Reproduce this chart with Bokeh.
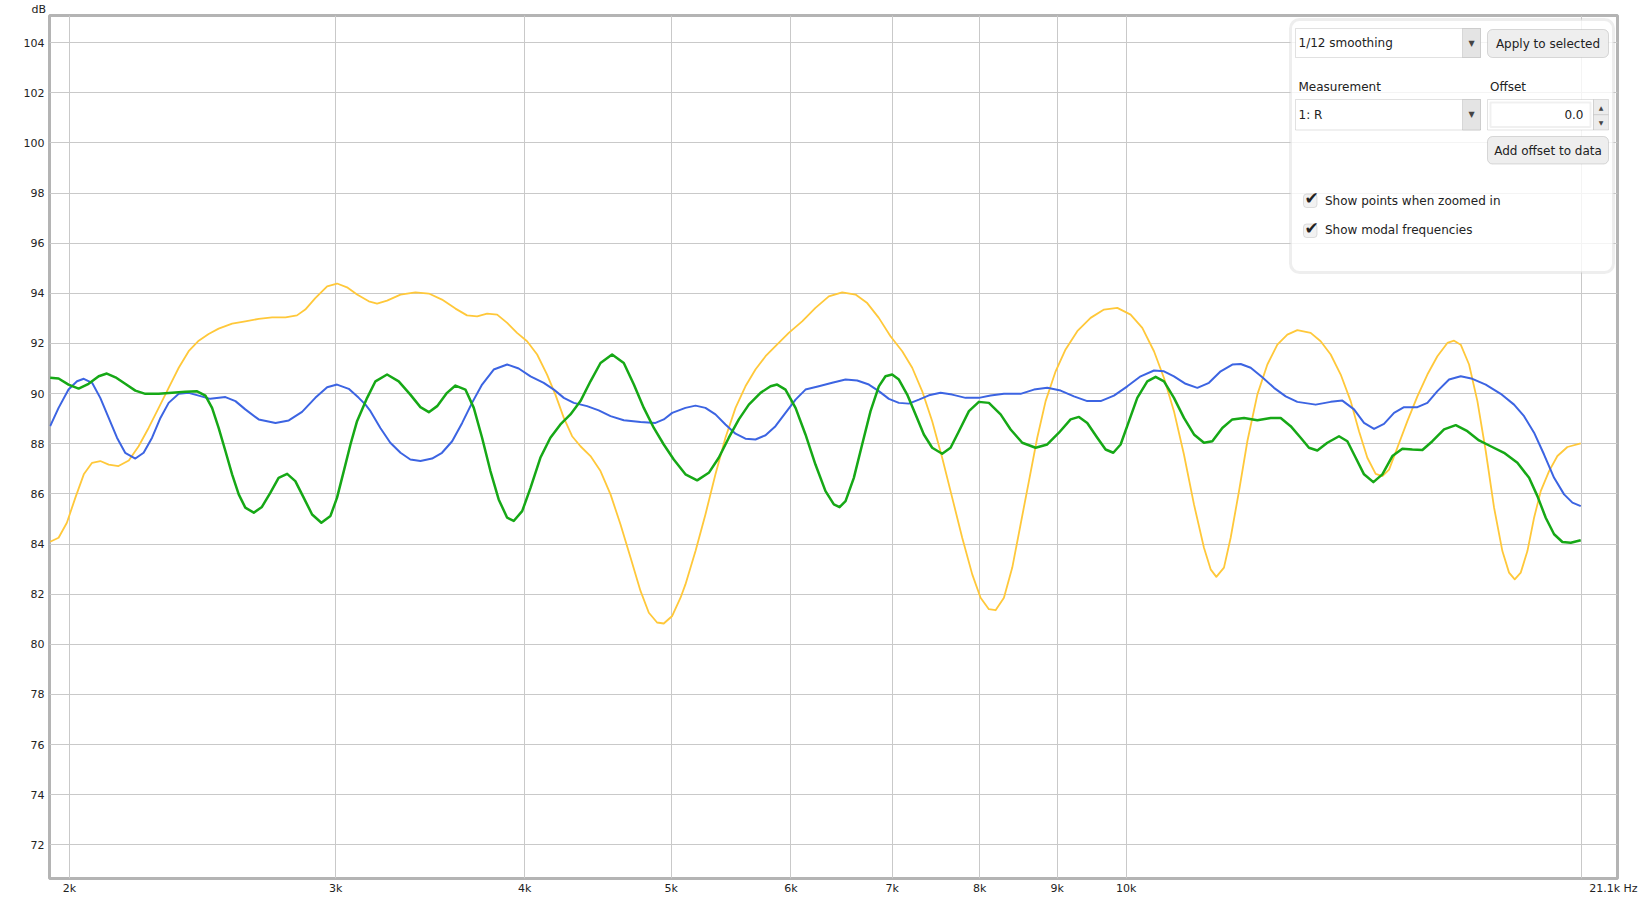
from bokeh.plotting import figure
from bokeh.models import Range1d, FixedTicker, BoxAnnotation, Label
from bokeh.embed import file_html
from bokeh.resources import INLINE

# ---------------- data (frequency in Hz, level in dB) ----------------
blue_hz = [1942, 1967, 1997, 2023, 2044, 2070, 2096, 2123, 2150, 2177,
           2211, 2239, 2268, 2297, 2326, 2362, 2398, 2435, 2478, 2536,
           2575, 2614, 2668, 2737, 2793, 2850, 2908, 2961, 3006, 3060,
           3107, 3139, 3163, 3211, 3260, 3311, 3361, 3413, 3474, 3527,
           3582, 3637, 3692, 3749, 3816, 3895, 3964, 4036, 4118, 4182,
           4246, 4311, 4399, 4478, 4559, 4652, 4772, 4882, 4944, 5008,
           5110, 5189, 5268, 5349, 5431, 5515, 5599, 5685, 5773, 5861,
           5951, 6043, 6135, 6261, 6390, 6521, 6638, 6757, 6860, 6966,
           7073, 7181, 7292, 7404, 7536, 7671, 7829, 7989, 8133, 8300,
           8513, 8688, 8866, 9048, 9234, 9423, 9617, 9814, 10016, 10221,
           10431, 10591, 10753, 10946, 11143, 11342, 11546, 11753, 11903, 12086,
           12302, 12523, 12748, 12976, 13343, 13652, 13897, 14146, 14363, 14584,
           14807, 15035, 15265, 15579, 15818, 16061, 16349, 16642, 16940, 17288,
           17687, 18050, 18327, 18609, 18894, 19185, 19479, 19728, 19980]
blue_db = [88.70, 89.43, 90.16, 90.49, 90.59, 90.43, 89.83, 89.03, 88.24, 87.64,
           87.41, 87.64, 88.24, 89.03, 89.63, 89.99, 90.03, 89.92, 89.79, 89.86,
           89.70, 89.37, 88.97, 88.83, 88.93, 89.27, 89.83, 90.25, 90.36, 90.19,
           89.83, 89.56, 89.30, 88.63, 88.04, 87.64, 87.37, 87.31, 87.41, 87.64,
           88.10, 88.83, 89.63, 90.36, 90.96, 91.16, 91.00, 90.69, 90.43, 90.16,
           89.83, 89.63, 89.50, 89.33, 89.10, 88.94, 88.87, 88.83, 88.97, 89.23,
           89.43, 89.52, 89.43, 89.17, 88.77, 88.40, 88.20, 88.17, 88.34, 88.70,
           89.23, 89.76, 90.16, 90.29, 90.43, 90.56, 90.52, 90.36, 90.10, 89.79,
           89.63, 89.60, 89.76, 89.93, 90.03, 89.96, 89.83, 89.83, 89.92, 89.99,
           89.99, 90.16, 90.23, 90.12, 89.89, 89.70, 89.70, 89.92, 90.29, 90.69,
           90.92, 90.89, 90.69, 90.39, 90.23, 90.43, 90.89, 91.16, 91.18, 91.03,
           90.65, 90.23, 89.89, 89.67, 89.56, 89.67, 89.72, 89.37, 88.83, 88.59,
           88.79, 89.23, 89.46, 89.46, 89.63, 90.10, 90.56, 90.69, 90.59, 90.36,
           89.99, 89.56, 89.10, 88.44, 87.57, 86.64, 85.98, 85.65, 85.51]

green_hz = [1942, 1967, 1997, 2028, 2059, 2091, 2117, 2145, 2177, 2211,
            2245, 2291, 2338, 2386, 2429, 2460, 2485, 2510, 2536, 2562,
            2588, 2614, 2648, 2681, 2716, 2750, 2786, 2821, 2857, 2894,
            2935, 2976, 3006, 3037, 3068, 3099, 3147, 3187, 3244, 3302,
            3361, 3413, 3457, 3501, 3554, 3600, 3655, 3702, 3749, 3797,
            3845, 3895, 3934, 3985, 4036, 4097, 4160, 4224, 4289, 4355,
            4422, 4490, 4570, 4652, 4724, 4796, 4870, 4944, 5020, 5110,
            5202, 5295, 5376, 5459, 5543, 5628, 5729, 5817, 5876, 5951,
            6043, 6135, 6229, 6325, 6406, 6462, 6521, 6604, 6688, 6774,
            6860, 6930, 7001, 7073, 7163, 7255, 7347, 7441, 7555, 7652,
            7750, 7869, 7989, 8112, 8258, 8385, 8535, 8710, 8866, 9025,
            9187, 9305, 9423, 9568, 9690, 9804, 9914, 10041, 10169, 10325,
            10457, 10591, 10753, 10918, 11086, 11256, 11400, 11575, 11753, 11964,
            12209, 12460, 12651, 12845, 13042, 13208, 13377, 13583, 13826, 14003,
            14182, 14363, 14569, 14770, 14997, 15227, 15460, 15698, 15939, 16225,
            16516, 16812, 17113, 17420, 17777, 18142, 18468, 18704, 18942, 19185,
            19430, 19678, 19980]
green_db = [90.63, 90.60, 90.36, 90.20, 90.39, 90.69, 90.80, 90.65, 90.39, 90.12,
            89.99, 89.99, 90.03, 90.07, 90.09, 89.92, 89.43, 88.63, 87.71, 86.78,
            85.98, 85.45, 85.25, 85.48, 86.05, 86.64, 86.80, 86.51, 85.85, 85.18,
            84.85, 85.12, 85.85, 86.91, 87.97, 88.90, 89.83, 90.49, 90.76, 90.49,
            89.96, 89.46, 89.26, 89.50, 90.03, 90.32, 90.16, 89.43, 88.24, 86.91,
            85.78, 85.05, 84.92, 85.31, 86.24, 87.44, 88.24, 88.77, 89.17, 89.70,
            90.49, 91.22, 91.56, 91.22, 90.36, 89.43, 88.63, 87.97, 87.37, 86.78,
            86.54, 86.84, 87.44, 88.24, 88.97, 89.56, 90.03, 90.29, 90.36, 90.16,
            89.43, 88.37, 87.17, 86.11, 85.58, 85.47, 85.71, 86.64, 87.97, 89.30,
            90.29, 90.69, 90.76, 90.56, 89.96, 89.17, 88.37, 87.84, 87.60, 87.84,
            88.50, 89.30, 89.67, 89.63, 89.17, 88.57, 88.04, 87.84, 87.97, 88.44,
            88.97, 89.07, 88.83, 88.24, 87.77, 87.64, 87.97, 88.90, 89.83, 90.49,
            90.67, 90.49, 89.83, 89.03, 88.37, 88.04, 88.10, 88.63, 88.97, 89.03,
            88.94, 89.03, 89.03, 88.70, 88.24, 87.84, 87.73, 88.04, 88.30, 88.10,
            87.44, 86.78, 86.47, 86.78, 87.51, 87.80, 87.77, 87.75, 88.10, 88.57,
            88.74, 88.50, 88.13, 87.90, 87.64, 87.24, 86.64, 85.91, 85.05, 84.39,
            84.08, 84.05, 84.15]

yellow_hz = [1942, 1967, 1992, 2018, 2044, 2070, 2096, 2123, 2155, 2189,
             2222, 2256, 2291, 2326, 2362, 2398, 2435, 2472, 2510, 2562,
             2614, 2668, 2723, 2779, 2828, 2864, 2908, 2961, 3006, 3052,
             3099, 3155, 3195, 3244, 3311, 3387, 3457, 3527, 3600, 3664,
             3721, 3778, 3836, 3895, 3954, 4015, 4077, 4139, 4192, 4246,
             4300, 4355, 4422, 4490, 4559, 4629, 4700, 4772, 4833, 4894,
             4944, 5008, 5072, 5110, 5189, 5268, 5349, 5431, 5515, 5599,
             5685, 5773, 5861, 5981, 6104, 6229, 6357, 6488, 6621, 6740,
             6860, 6983, 7109, 7218, 7329, 7441, 7555, 7671, 7789, 7909,
             8010, 8112, 8195, 8300, 8406, 8513, 8622, 8732, 8844, 8980,
             9117, 9281, 9471, 9666, 9864, 10066, 10247, 10431, 10591, 10753,
             10918, 11086, 11256, 11371, 11470, 11604, 11723, 11873, 12025, 12209,
             12397, 12587, 12780, 12976, 13242, 13445, 13652, 13862, 14074, 14254,
             14436, 14620, 14770, 14921, 15111, 15343, 15579, 15818, 16061, 16307,
             16474, 16642, 16855, 17070, 17288, 17509, 17732, 17913, 18069, 18235,
             18421, 18609, 18799, 19039, 19282, 19578, 19980]
yellow_db = [84.09, 84.25, 84.85, 85.85, 86.78, 87.24, 87.31, 87.17, 87.11, 87.33,
             87.90, 88.63, 89.43, 90.23, 91.03, 91.69, 92.11, 92.38, 92.59, 92.79,
             92.88, 92.98, 93.04, 93.04, 93.12, 93.35, 93.81, 94.28, 94.39, 94.24,
             93.95, 93.68, 93.59, 93.71, 93.95, 94.04, 93.99, 93.75, 93.39, 93.12,
             93.08, 93.19, 93.15, 92.82, 92.42, 92.09, 91.56, 90.76, 89.96, 89.03,
             88.30, 87.90, 87.51, 86.91, 85.98, 84.78, 83.46, 82.13, 81.26, 80.87,
             80.83, 81.13, 81.86, 82.39, 83.72, 85.18, 86.78, 88.24, 89.43, 90.29,
             90.96, 91.49, 91.89, 92.42, 92.88, 93.42, 93.88, 94.04, 93.95, 93.61,
             93.02, 92.29, 91.69, 91.03, 90.09, 88.90, 87.44, 85.85, 84.25, 82.79,
             81.86, 81.40, 81.36, 81.86, 83.06, 84.78, 86.51, 88.24, 89.70, 90.89,
             91.76, 92.49, 93.02, 93.35, 93.42, 93.15, 92.62, 91.69, 90.62, 89.30,
             87.57, 85.58, 83.85, 82.99, 82.69, 83.06, 84.25, 86.11, 88.10, 89.96,
             91.16, 91.95, 92.35, 92.53, 92.42, 92.09, 91.56, 90.76, 89.70, 88.50,
             87.44, 86.80, 86.71, 86.97, 87.84, 88.90, 89.89, 90.76, 91.49, 92.02,
             92.11, 91.95, 91.16, 89.70, 87.71, 85.45, 83.72, 82.86, 82.59, 82.86,
             83.72, 85.05, 86.11, 86.91, 87.51, 87.87, 88.01]

y_ticks = list(range(72, 105, 2))
grid_x_ticks = [2000, 3000, 4000, 5000, 6000, 7000, 8000, 9000, 10000, 20000]
x_ticks = [2000, 3000, 4000, 5000, 6000, 7000, 8000, 9000, 10000, 20000, 21000]
x_tick_labels = ["2k", "3k", "4k", "5k", "6k", "7k", "8k", "9k", "10k", "", "21.1k Hz"]
y_unit_label = "dB"

# ---------------- figure ----------------
W, H = 1641, 900
BL, BR, BT, BB = 49, 24, 14, 22
FL = BL                 # frame left (page px)
FB = H - BB             # frame bottom (page px)
p = figure(width=W, height=H, x_axis_type="log",
           x_range=Range1d(1940, 21130), y_range=Range1d(70.66, 105.08),
           output_backend="svg", toolbar_location=None,
           min_border_left=BL, min_border_right=BR,
           min_border_top=BT, min_border_bottom=BB)
p.background_fill_color = "white"
p.border_fill_color = "white"
p.outline_line_color = "#b4b4b4"
p.outline_line_width = 3

# unit label "dB" above the y axis
p.title.text = y_unit_label
p.title.align = "left"
p.title.offset = -18
p.title.standoff = 0
p.title.text_font = "DejaVu Sans"
p.title.text_font_size = "11px"
p.title.text_font_style = "normal"
p.title.text_color = "#222222"

p.xaxis.ticker = FixedTicker(ticks=x_ticks)
p.xgrid.ticker = FixedTicker(ticks=grid_x_ticks)
p.xaxis.major_label_overrides = dict(zip(x_ticks, x_tick_labels))
p.yaxis.ticker = FixedTicker(ticks=y_ticks)
p.ygrid.ticker = FixedTicker(ticks=y_ticks)
for ax in (p.xaxis[0], p.yaxis[0]):
    ax.axis_line_color = None
    ax.major_tick_line_color = None
    ax.minor_tick_line_color = None
    ax.major_tick_out = 0
    ax.major_tick_in = 0
    ax.major_label_text_font = "DejaVu Sans"
    ax.major_label_text_font_size = "11px"
    ax.major_label_text_color = "#222222"
p.xaxis.major_label_standoff = 3
p.yaxis.major_label_standoff = 5
for g in (p.xgrid[0], p.ygrid[0]):
    g.grid_line_color = "#c9c9c9"
    g.grid_line_width = 1

p.line(yellow_hz, yellow_db, line_color="#ffc83a", line_width=1.8, line_join="round")
p.line(blue_hz, blue_db, line_color="#3c64e2", line_width=2.0, line_join="round")
p.line(green_hz, green_db, line_color="#16a816", line_width=2.5, line_join="round")


# ---------------- helpers for pixel-placed panel widgets (frame-relative screen units) ----------------
def S(X, Y):
    return X - FL, FB - Y


def box(X0, Y0, X1, Y1, fill="#ffffff", alpha=1.0, line="#9a9a9a", lw=1, r=0):
    l, t = S(X0, Y0)
    rr, b = S(X1, Y1)
    p.add_layout(BoxAnnotation(left=l, right=rr, top=t, bottom=b,
                               left_units="screen", right_units="screen",
                               top_units="screen", bottom_units="screen",
                               fill_color=fill, fill_alpha=alpha,
                               line_color=line, line_width=lw, border_radius=r))


def txt(X, Y, s, size="12px", align="left", color="#222222", baseline="middle"):
    x, y = S(X, Y)
    p.add_layout(Label(x=x, y=y, x_units="screen", y_units="screen", text=s,
                       text_font="DejaVu Sans", text_font_size=size,
                       text_align=align, text_baseline=baseline, text_color=color))


# control panel
box(1290, 19, 1613, 272, fill="#ffffff", alpha=0.8, line="#c6c6c6", lw=3, r=9)
# smoothing dropdown
box(1295, 28, 1480, 57)
box(1462, 28, 1480, 57, fill="#e4e4e4")
txt(1471, 42.5, "\u25bc", size="8px", align="center", color="#444444")
txt(1298, 42.5, "1/12 smoothing")
# apply button
box(1487, 29, 1608, 57, fill="#eeeeee", line="#8c8c8c", r=5)
txt(1547.5, 43, "Apply to selected", align="center")
# labels
txt(1298, 86.5, "Measurement")
txt(1489.5, 86.5, "Offset")
# measurement dropdown
box(1295, 99, 1480, 129.5)
box(1462, 99, 1480, 129.5, fill="#e4e4e4")
txt(1471, 114, "\u25bc", size="8px", align="center", color="#444444")
txt(1298, 114, "1: R")
# offset field
box(1487, 99, 1593, 129.5, line="#a0a0a0")
box(1490, 102, 1590, 126.5, line="#cccccc", lw=2)
txt(1583, 114, "0.0", align="right")
box(1593, 99, 1608, 114.25, fill="#ececec", line="#a0a0a0")
box(1593, 114.25, 1608, 129.5, fill="#ececec", line="#a0a0a0")
txt(1600.5, 106.5, "\u25b2", size="6px", align="center", color="#444444")
txt(1600.5, 122, "\u25bc", size="6px", align="center", color="#444444")
# add offset button
box(1487, 136, 1608, 163.5, fill="#eeeeee", line="#8c8c8c", r=5)
txt(1547.5, 150, "Add offset to data", align="center")
# checkboxes
box(1303, 193.5, 1316.5, 207, fill="#f2f2f2", line="#9a9a9a", r=3)
txt(1311, 197.5, "\u2714", size="17px", align="center", color="#222222")
txt(1324.5, 200, "Show points when zoomed in")
box(1303, 223.5, 1316.5, 237, fill="#f2f2f2", line="#9a9a9a", r=3)
txt(1311, 227.5, "\u2714", size="17px", align="center", color="#222222")
txt(1324.5, 229.5, "Show modal frequencies")

open("out.html", "w").write(file_html(p, INLINE))
